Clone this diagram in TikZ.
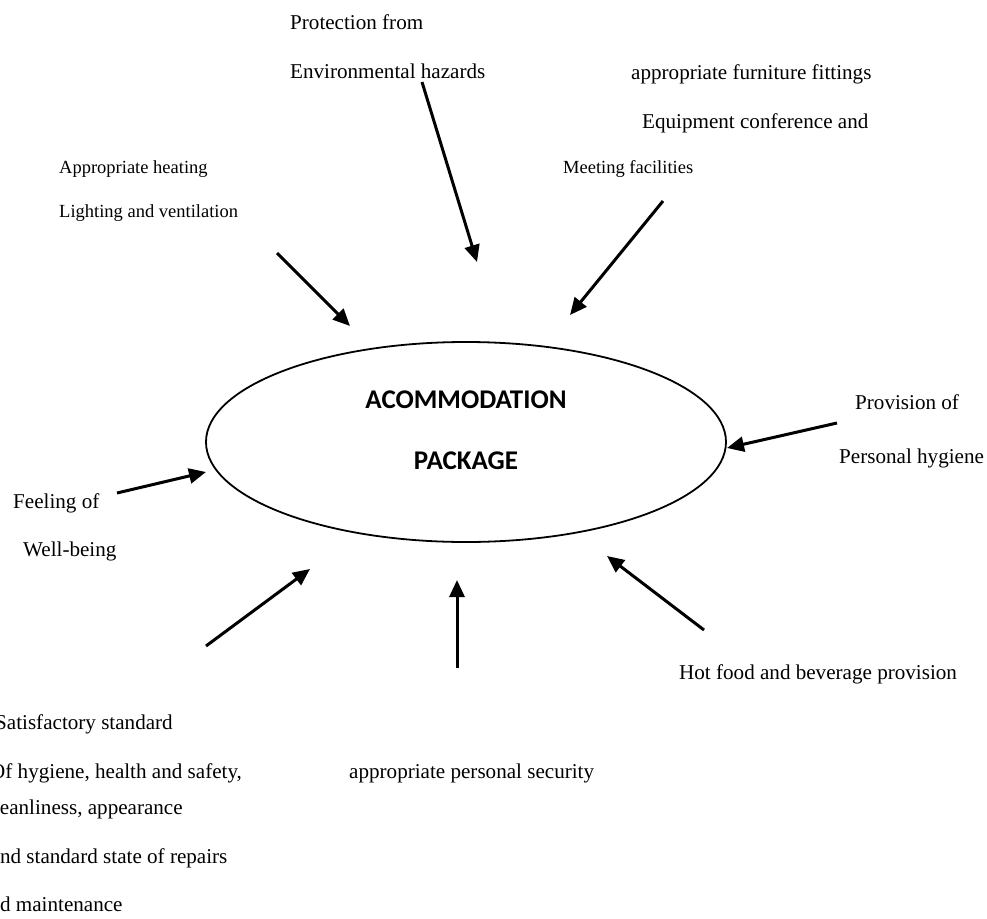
\documentclass[tikz,border=0pt]{standalone}
\usepackage{fontspec}
\setmainfont{Liberation Serif}
\newfontfamily\hubfont{Carlito}
\usetikzlibrary{arrows.meta,shapes.geometric}
\begin{document}
\begin{tikzpicture}[x=1pt,y=-1pt,
  lbl/.style={anchor=base west,inner sep=0pt,font=\fontsize{21.1}{24}\selectfont},
  lblsm/.style={anchor=base west,inner sep=0pt,font=\fontsize{18.5}{21}\selectfont},
  hubtext/.style={anchor=center,inner sep=0pt,font=\hubfont\bfseries\fontsize{27}{30}\selectfont},
  hub/.style={draw,ellipse,line width=1.8pt,minimum width=520pt,minimum height=200pt,inner sep=0pt},
  feed/.style={line width=3pt,-{Triangle[length=17pt,width=15pt]}},
]
\useasboundingbox (0,0) rectangle (987,918);
\clip (0,0) rectangle (987,918);

% central package
\node[hub] (pkg) at (466,442) {};
\node[hubtext] (pkgA) at (466,400) {ACOMMODATION};
\node[hubtext] (pkgB) at (466,461) {PACKAGE};

% surrounding labels
\node[lbl] (envA) at (290,29.5) {Protection from};
\node[lbl] (envB) at (290,78.5) {Environmental hazards};
\node[lbl] (furnA) at (631,79.5) {appropriate furniture fittings};
\node[lbl] (furnB) at (642,128.5) {Equipment conference and};
\node[lblsm] (furnC) at (563,173.6) {Meeting facilities};
\node[lblsm] (heatA) at (59,173.6) {Appropriate heating};
\node[lblsm] (heatB) at (59,217.6) {Lighting and ventilation};
\node[lbl] (hygA) at (855,409.5) {Provision of};
\node[lbl] (hygB) at (839,463) {Personal hygiene};
\node[lbl] (wellA) at (13,508.5) {Feeling of};
\node[lbl] (wellB) at (23,556.5) {Well-being};
\node[lbl] (food) at (679,679.5) {Hot food and beverage provision};
\node[lbl] (stdA) at (-5,729.5) {Satisfactory standard};
\node[lbl] (stdB) at (-10,778.5) {Of hygiene, health and safety,};
\node[lbl] (stdC) at (-15.5,814.5) {cleanliness, appearance};
\node[lbl] (stdD) at (-9.5,863.5) {and standard state of repairs};
\node[lbl] (stdE) at (-20,911.5) {and maintenance};
\node[lbl] (sec) at (349,778.5) {appropriate personal security};

% arrow end points
\coordinate (s1) at (422,82);   \coordinate (e1) at (477,262);
\coordinate (s2) at (663,201);  \coordinate (e2) at (570,315);
\coordinate (s3) at (277,253);  \coordinate (e3) at (350,326);
\coordinate (s4) at (837,423);  \coordinate (e4) at (727,448);
\coordinate (s5) at (117,493);  \coordinate (e5) at (206,472);
\coordinate (s6) at (206,646);  \coordinate (e6) at (310,569);
\coordinate (s7) at (457,668);  \coordinate (e7) at (457,580);
\coordinate (s8) at (704,630);  \coordinate (e8) at (607,556);

\foreach \i in {1,...,8} {\draw[feed] (s\i) -- (e\i);}
\end{tikzpicture}
\end{document}
